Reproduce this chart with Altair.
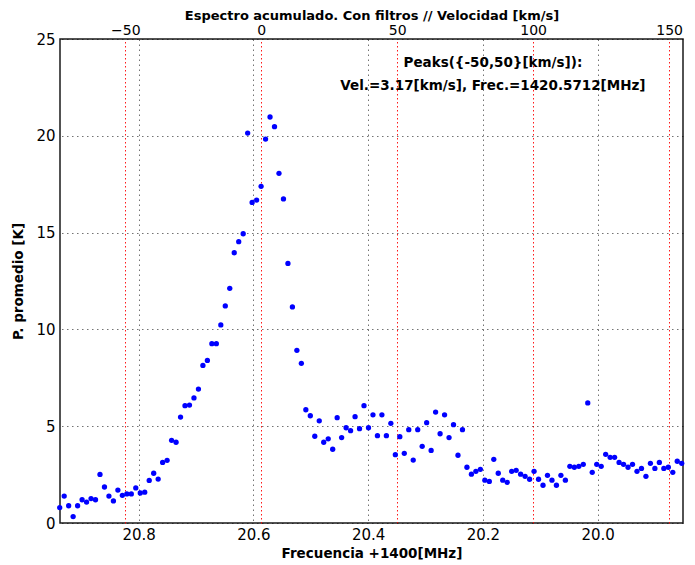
import altair as alt
import pandas as pd

# Channel frequencies (MHz, minus 1400)
freq = [
    20.9377, 20.9299, 20.9221, 20.9143, 20.9065, 20.8987, 20.8909, 20.8831, 20.8753, 20.8675,
    20.8597, 20.8519, 20.8441, 20.8363, 20.8285, 20.8207, 20.8129, 20.8051, 20.7973, 20.7895,
    20.7817, 20.7739, 20.7661, 20.7583, 20.7505, 20.7427, 20.7349, 20.7271, 20.7193, 20.7115,
    20.7037, 20.6959, 20.6881, 20.6803, 20.6725, 20.6647, 20.6569, 20.6491, 20.6413, 20.6335,
    20.6257, 20.6179, 20.6101, 20.6023, 20.5945, 20.5867, 20.5789, 20.5711, 20.5633, 20.5555,
    20.5477, 20.5399, 20.5321, 20.5243, 20.5165, 20.5087, 20.5009, 20.4931, 20.4853, 20.4775,
    20.4697, 20.4619, 20.4541, 20.4463, 20.4385, 20.4307, 20.4229, 20.4151, 20.4073, 20.3995,
    20.3917, 20.3839, 20.3761, 20.3683, 20.3605, 20.3527, 20.3449, 20.3371, 20.3293, 20.3215,
    20.3137, 20.3059, 20.2981, 20.2903, 20.2825, 20.2747, 20.2669, 20.2591, 20.2513, 20.2435,
    20.2357, 20.2279, 20.2201, 20.2123, 20.2045, 20.1967, 20.1889, 20.1811, 20.1733, 20.1655,
    20.1577, 20.1499, 20.1421, 20.1343, 20.1265, 20.1187, 20.1109, 20.1031, 20.0953, 20.0875,
    20.0797, 20.0719, 20.0641, 20.0563, 20.0485, 20.0407, 20.0329, 20.0251, 20.0173, 20.0095,
    20.0017, 19.9939, 19.9861, 19.9783, 19.9705, 19.9627, 19.9549, 19.9471, 19.9393, 19.9315,
    19.9237, 19.9159, 19.9081, 19.9003, 19.8925, 19.8847, 19.8769, 19.8691, 19.8613, 19.8535,
]

# Averaged power [K]
power = [
    0.79, 1.39, 0.89, 0.33, 0.89, 1.20, 1.08, 1.26, 1.20, 2.51,
    1.86, 1.39, 1.14, 1.70, 1.43, 1.50, 1.50, 1.81, 1.55, 1.59,
    2.20, 2.57, 2.27, 3.13, 3.24, 4.27, 4.17, 5.47, 6.06, 6.09,
    6.46, 6.92, 8.14, 8.40, 9.26, 9.26, 10.23, 11.21, 12.12, 13.96,
    14.53, 14.94, 20.14, 16.56, 16.68, 17.39, 19.83, 20.97, 20.47, 18.06,
    16.74, 13.41, 11.16, 8.92, 8.25, 5.85, 5.54, 4.48, 5.28, 4.17,
    4.35, 3.81, 5.44, 4.41, 4.92, 4.77, 5.49, 4.87, 6.06, 4.92,
    5.59, 4.51, 5.59, 4.51, 5.15, 3.53, 4.46, 3.60, 4.82, 3.25,
    4.82, 3.96, 5.18, 3.75, 5.73, 4.61, 5.59, 4.41, 5.08, 3.50,
    4.82, 2.88, 2.52, 2.67, 2.77, 2.21, 2.15, 3.29, 2.57, 2.21,
    2.10, 2.67, 2.72, 2.52, 2.41, 2.26, 2.67, 2.26, 1.95, 2.46,
    2.21, 1.95, 2.46, 2.21, 2.93, 2.88, 2.93, 3.03, 6.20, 2.62,
    3.03, 2.93, 3.55, 3.39, 3.39, 3.13, 3.03, 2.88, 3.03, 2.67,
    2.82, 2.41, 3.08, 2.82, 3.13, 2.82, 2.88, 2.62, 3.19, 3.08,
]

freq_ticks = [20.0, 20.2, 20.4, 20.6, 20.8]
vel_ticks = [-50, 0, 50, 100, 150]
y_ticks = [0, 5, 10, 15, 20, 25]

peak_text = ["Peaks({-50,50}[km/s]):", "Vel.=3.17[km/s], Frec.=1420.5712[MHz]"]
peak_vel = [85.2, 85.2]
peak_pow = [23.78, 22.55]

FONT = "DejaVu Sans"

df = pd.DataFrame({"freq": freq, "power": power})
ann = pd.DataFrame({"vel": peak_vel, "power": peak_pow, "label": peak_text})

y_axis = alt.Axis(
    values=y_ticks, title="P. promedio [K]", grid=True,
    gridColor="#000", gridDash=[1.5, 3.5], gridOpacity=0.55, gridWidth=1,
    ticks=False, tickSize=0, domain=False, labelPadding=5,
    labelFont=FONT, labelFontSize=15, labelColor="#000",
    titleFont=FONT, titleFontSize=13.5, titleFontWeight="bold", titleColor="#000",
    titlePadding=10,
)
y_scale = alt.Scale(domain=[0, 25], nice=False, zero=False)

points = alt.Chart(df).mark_circle(size=28, color="#0000ff", opacity=1).encode(
    x=alt.X(
        "freq:Q",
        scale=alt.Scale(domain=[19.8513, 20.9372], reverse=True, nice=False, zero=False),
        axis=alt.Axis(
            orient="bottom", values=freq_ticks, format=".1f",
            title="Frecuencia +1400[MHz]", grid=True,
            gridColor="#000", gridDash=[1.5, 3.5], gridOpacity=0.55, gridWidth=1,
            ticks=False, tickSize=0, domain=False, labelPadding=4,
            labelFont=FONT, labelFontSize=15, labelColor="#000",
            titleFont=FONT, titleFontSize=13.5, titleFontWeight="bold", titleColor="#000",
            titlePadding=4,
        ),
    ),
    y=alt.Y("power:Q", scale=y_scale, axis=y_axis),
)

text = alt.Chart(ann).mark_text(
    font=FONT, fontSize=13.5, fontWeight="bold", color="#000",
    align="center", baseline="middle",
).encode(
    x=alt.X(
        "vel:Q",
        scale=alt.Scale(domain=[-74.05, 155.12], nice=False, zero=False),
        axis=alt.Axis(
            orient="top", values=vel_ticks, format="d",
            title="Espectro acumulado. Con filtros // Velocidad [km/s]", grid=True,
            gridColor="#ff0000", gridDash=[1.5, 2.5], gridOpacity=0.9, gridWidth=1,
            ticks=False, tickSize=0, domain=False, labelPadding=2,
            labelFont=FONT, labelFontSize=14, labelColor="#000",
            titleFont=FONT, titleFontSize=13, titleFontWeight="bold", titleColor="#000",
            titlePadding=0.5,
        ),
    ),
    y=alt.Y("power:Q", scale=y_scale, axis=y_axis),
    text="label:N",
)

chart = (
    alt.layer(points, text)
    .resolve_scale(x="independent")
    .properties(
        width=623, height=484,
        autosize=alt.AutoSizeParams(type="none"),
        padding={"left": 52, "top": 31, "right": 4, "bottom": 37},
        background="white",
    )
    .configure_view(stroke="#1a1a1a", strokeWidth=1.5)
)

chart.save("out.html", embed_options={"renderer": "svg", "actions": False})
